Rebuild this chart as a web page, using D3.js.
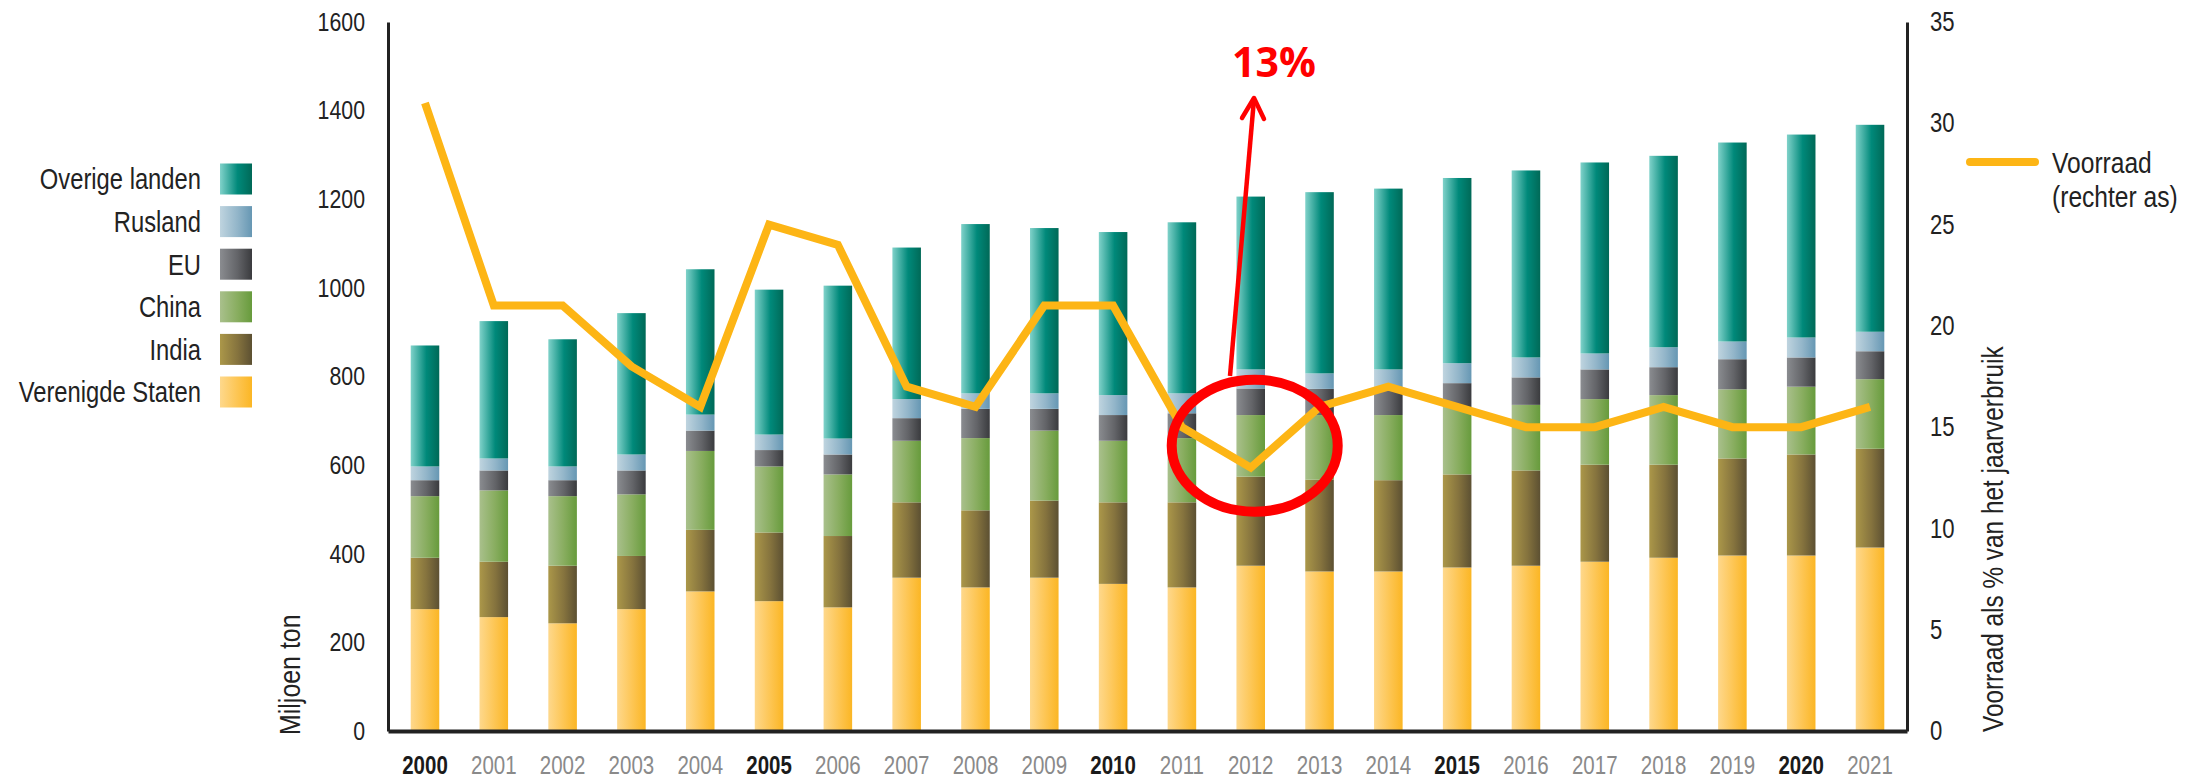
<!DOCTYPE html>
<html>
<head>
<meta charset="utf-8">
<script src="https://cdn.jsdelivr.net/npm/d3@7"></script>
<style>
  body { margin: 0; background: #fff; }
  svg text { font-family: 'Liberation Sans', Arial, sans-serif; }
</style>
</head>
<body>
<div id="chart"></div>
<script>
// data (million tonnes, stacked)
const years = ['2000','2001','2002','2003','2004','2005','2006','2007','2008','2009','2010',
  '2011','2012','2013','2014','2015','2016','2017','2018','2019','2020','2021'];
const boldYears = ['2000','2005','2010','2015','2020'];

const verenigdeStaten = [275,257,243,275,315,293,279,346,324,346,332,324,373,360,360,369,373,382,391,396,396,414];
const india   = [116,125,130,120,139,155,161,170,174,174,184,192,201,207,206,210,215,219,210,219,228,223];
const china   = [139,161,157,139,178,149,139,139,163,158,139,145,139,146,147,152,148,148,157,156,153,157];
const eu      = [36,45,36,54,46,37,45,51,66,49,58,56,60,59,58,54,62,67,63,68,66,63];
const rusland = [31,27,31,36,36,35,36,43,35,35,45,45,43,35,45,45,45,36,45,40,45,44];
const overige = [273,310,287,319,328,327,345,342,382,373,368,386,390,409,408,418,422,431,432,449,458,467];

// stock as % of yearly consumption (right axis)
const voorraad = [31,21,21,18,16,25,24,17,16,21,21,15,13,16,17,16,15,15,16,15,15,16];

const leftTicks = [0,200,400,600,800,1000,1200,1400,1600];
const rightTicks = [0,5,10,15,20,25,30,35];

const seriesNames = ['Verenigde Staten','India','China','EU','Rusland','Overige landen'];
const seriesKeys = ['us','india','china','eu','rus','overige'];
const seriesColors = {
  us:      ['#fed88c', '#fdc552', '#fbb624'],
  india:   ['#ab9749', '#85733e', '#5c5032'],
  china:   ['#a9c08c', '#88ad5f', '#679b3c'],
  eu:      ['#8a8c90', '#636468', '#3a3b3e'],
  rus:     ['#bfd4df', '#92b5c9', '#6697b3'],
  overige: ['#80d2ca', '#00897a', '#006957']
};

const W = 2194, H = 779;
const margin = { left: 388, right: 2194 - 1907, top: 22, bottom: 779 - 731 };
const SX = 0.82; // narrow the sans to look like a condensed face

// squeeze text horizontally, keeping its anchor point
function condense(sel, sx) {
  sel.each(function() {
    const t = d3.select(this);
    const xv = +(t.attr('x') || 0);
    t.attr('x', xv / sx);
    const tr = t.attr('transform') || '';
    t.attr('transform', (tr + ' scale(' + sx + ',1)').trim());
  });
}

const svg = d3.select('#chart').append('svg')
  .attr('width', W)
  .attr('height', H);

// gradients
const defs = svg.append('defs');
seriesKeys.forEach(k => {
  const g = defs.append('linearGradient')
    .attr('id', 'grad-' + k)
    .attr('x1', 0).attr('x2', 1).attr('y1', 0).attr('y2', 0);
  g.append('stop').attr('offset', '0%').attr('stop-color', seriesColors[k][0]);
  g.append('stop').attr('offset', '55%').attr('stop-color', seriesColors[k][1]);
  g.append('stop').attr('offset', '100%').attr('stop-color', seriesColors[k][2]);
});

const table = years.map((y, i) => ({
  year: y, us: verenigdeStaten[i], india: india[i], china: china[i],
  eu: eu[i], rus: rusland[i], overige: overige[i]
}));

const x = d3.scaleBand()
  .domain(years)
  .range([margin.left, W - margin.right])
  .paddingInner(0.585)
  .paddingOuter(0.33);

const y = d3.scaleLinear().domain([0, 1600]).range([H - margin.bottom, margin.top]);
const yR = d3.scaleLinear().domain([0, 35]).range([H - margin.bottom, margin.top]);

// bars
const stacked = d3.stack().keys(seriesKeys)(table);
svg.append('g')
  .selectAll('g')
  .data(stacked)
  .enter()
  .append('g')
  .attr('fill', d => 'url(#grad-' + d.key + ')')
  .selectAll('rect')
  .data(d => d)
  .enter()
  .append('rect')
  .attr('x', d => x(d.data.year))
  .attr('y', d => y(d[1]))
  .attr('width', x.bandwidth())
  .attr('height', d => y(d[0]) - y(d[1]));

// axes
const axisL = svg.append('g')
  .attr('transform', `translate(${margin.left},0)`)
  .call(d3.axisLeft(y).tickValues(leftTicks).tickSize(0).tickPadding(23).tickFormat(d3.format('d')));
axisL.select('.domain').attr('stroke', '#222').attr('stroke-width', 3);
axisL.selectAll('text').attr('font-size', '26px').attr('fill', '#222')
  .style('font-family', "'Liberation Sans', Arial, sans-serif")
  .call(condense, SX);

const axisR = svg.append('g')
  .attr('transform', `translate(${W - margin.right},0)`)
  .call(d3.axisRight(yR).tickValues(rightTicks).tickSize(0).tickPadding(23));
axisR.select('.domain').attr('stroke', '#222').attr('stroke-width', 3);
axisR.selectAll('text').attr('font-size', '27px').attr('fill', '#222')
  .style('font-family', "'Liberation Sans', Arial, sans-serif")
  .call(condense, SX);

const axisB = svg.append('g')
  .attr('transform', `translate(0,${H - margin.bottom})`)
  .call(d3.axisBottom(x).tickSize(0).tickSizeOuter(0).tickPadding(25));
axisB.select('.domain').attr('stroke', '#222').attr('stroke-width', 4);
axisB.selectAll('text')
  .attr('font-size', '25px')
  .style('font-family', "'Liberation Sans', Arial, sans-serif")
  .attr('fill', d => boldYears.includes(d) ? '#1a1a1a' : '#8a8a8a')
  .attr('font-weight', d => boldYears.includes(d) ? 'bold' : 'normal')
  .call(condense, SX);

// axis titles
svg.append('text')
  .attr('transform', 'translate(300,735) rotate(-90)')
  .attr('font-size', '29px').attr('fill', '#222')
  .text('Miljoen ton')
  .call(condense, 0.86);
svg.append('text')
  .attr('transform', 'translate(2003,732) rotate(-90)')
  .attr('font-size', '29px').attr('fill', '#222')
  .text('Voorraad als % van het jaarverbruik')
  .call(condense, 0.84);

// stock line
const line = d3.line()
  .x((d, i) => x(years[i]) + x.bandwidth() / 2)
  .y(d => yR(d));
svg.append('path')
  .datum(voorraad)
  .attr('fill', 'none')
  .attr('stroke', '#fdb515')
  .attr('stroke-width', 8)
  .attr('stroke-linejoin', 'miter')
  .attr('d', line);

// left legend
const legendRows = seriesKeys.slice().reverse();
const legend = svg.append('g');
legendRows.forEach((k, i) => {
  const cy = 179 + i * 42.6;
  legend.append('rect')
    .attr('x', 220).attr('y', cy - 15.5)
    .attr('width', 32).attr('height', 31)
    .attr('fill', 'url(#grad-' + k + ')');
  legend.append('text')
    .attr('x', 201).attr('y', cy)
    .attr('dy', '0.36em')
    .attr('text-anchor', 'end')
    .attr('font-size', '29px').attr('fill', '#222')
    .text(seriesNames[seriesKeys.indexOf(k)])
    .call(condense, SX);
});

// right legend
svg.append('line')
  .attr('x1', 1970).attr('x2', 2035).attr('y1', 162).attr('y2', 162)
  .attr('stroke', '#fdb515').attr('stroke-width', 8).attr('stroke-linecap', 'round');
svg.append('text').attr('x', 2052).attr('y', 162).attr('dy', '0.36em')
  .attr('font-size', '30px').attr('fill', '#222').text('Voorraad')
  .call(condense, SX);
svg.append('text').attr('x', 2052).attr('y', 196).attr('dy', '0.36em')
  .attr('font-size', '30px').attr('fill', '#222').text('(rechter as)')
  .call(condense, SX);

// red annotation on 2012
const cx2012 = x('2012') + x.bandwidth() / 2;
const annot = svg.append('g');
annot.append('ellipse')
  .attr('cx', cx2012 + 4).attr('cy', yR(voorraad[12]) - 22)
  .attr('rx', 83).attr('ry', 66)
  .attr('fill', 'none').attr('stroke', '#ff0000').attr('stroke-width', 10);
annot.append('line')
  .attr('x1', 1230).attr('y1', 376).attr('x2', 1254).attr('y2', 99)
  .attr('stroke', '#ff0000').attr('stroke-width', 4.5);
annot.append('path')
  .attr('d', 'M1242,118 L1254,98 L1264,119')
  .attr('fill', 'none').attr('stroke', '#ff0000').attr('stroke-width', 4.5)
  .attr('stroke-linecap', 'round').attr('stroke-linejoin', 'round');
annot.append('text')
  .attr('x', 1232).attr('y', 77)
  .attr('font-size', '41px').attr('font-weight', 'bold').attr('fill', '#ff0000')
  .style('font-family', "'Open Sans', 'Liberation Sans', sans-serif")
  .text(voorraad[12] + '%');
</script>
</body>
</html>
